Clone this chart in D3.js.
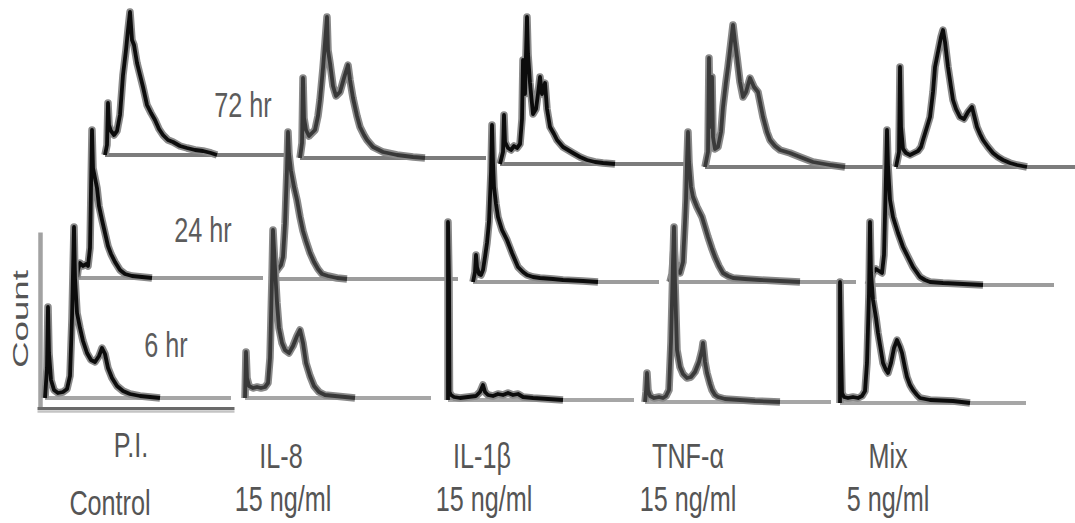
<!DOCTYPE html>
<html><head><meta charset="utf-8">
<script src="https://cdn.jsdelivr.net/npm/d3@7"></script>
<style>html,body{margin:0;padding:0;background:#fff;} svg{display:block}</style>
</head><body>
<svg id="chart" width="1075" height="523"></svg>
<script>
// ---------------- DATA ----------------
const groups = ["Control", "IL-8", "IL-1β", "TNF-α", "Mix"];
const groupLabels = ["P.I.", "IL-8", "IL-1β", "TNF-α", "Mix"];
const doseLabels = ["Control", "15 ng/ml", "15 ng/ml", "15 ng/ml", "5 ng/ml"];
const timeLabels = ["6 hr", "24 hr", "72 hr"];
const yAxisLabel = "Count";

// [channel, count] pairs
const control6 = [[0,0],[2,30],[3,91],[4,45],[6,18],[9,8],[13,5],[18,6],[22,9],[25,22],[27,80],[29,171],[30,120],[32,85],[35,70],[38,57],[42,45],[46,38],[50,36],[54,42],[57,50],[60,44],[63,30],[67,20],[72,12],[78,7],[85,4],[95,2],[105,1],[115,0]];
const control24 = [[0,0],[1,8],[3,15],[6,12],[9,14],[11,12],[13,30],[15,148],[16,110],[18,100],[20,90],[22,72],[25,58],[28,45],[31,32],[34,24],[38,16],[43,8],[48,4],[55,2],[65,1],[75,0]];
const control72 = [[0,0],[2,10],[3,52],[4,30],[6,24],[9,20],[12,24],[15,40],[18,80],[21,105],[23,125],[25,143],[27,115],[29,110],[32,92],[35,80],[38,68],[42,50],[46,42],[50,35],[54,26],[58,20],[63,15],[68,13],[75,9],[82,7],[90,5],[98,4],[106,2],[112,0]];

const il8_6 = [[0,0],[1,46],[2,20],[4,12],[8,10],[12,11],[16,10],[20,11],[23,15],[25,40],[27,120],[28,168],[30,130],[32,95],[34,70],[37,55],[40,48],[44,45],[48,52],[52,62],[55,68],[58,55],[61,35],[65,22],[69,12],[74,6],[80,3],[90,2],[100,1],[110,0]];
const il8_24 = [[0,0],[3,6],[6,10],[9,14],[11,22],[13,55],[15,110],[16,147],[17,125],[19,108],[22,92],[25,79],[28,62],[31,48],[34,38],[38,26],[42,17],[46,10],[50,5],[56,3],[65,1],[75,0]];
const il8_72 = [[0,0],[2,15],[3,80],[4,40],[6,28],[9,22],[12,25],[15,28],[18,42],[20,58],[23,90],[25,115],[27,141],[28,108],[30,95],[33,72],[36,62],[40,66],[44,80],[48,93],[50,78],[53,60],[57,42],[60,31],[64,23],[67,18],[73,11],[83,6],[97,3],[113,1],[125,0]];

const il1b_6 = [[0,0],[0,178],[1,120],[1.5,8],[3,5],[6,3],[12,2],[20,3],[28,4],[32,8],[35,15],[37,8],[40,5],[45,4],[50,6],[55,5],[60,7],[65,5],[70,6],[75,3],[85,2],[100,1],[115,0]];
const il1b_24 = [[0,0],[2,10],[3,27],[4,15],[6,8],[8,7],[10,12],[12,25],[14,39],[16,60],[18,110],[19,157],[20,120],[21,95],[23,78],[25,65],[29,52],[34,42],[39,29],[45,15],[50,10],[54,7],[60,5],[67,4],[80,3],[90,2],[110,1],[125,0]];
const il1b_72 = [[0,0],[3,12],[4,49],[5,22],[8,16],[11,14],[14,18],[17,16],[20,20],[22,45],[23,104],[25,70],[26,110],[27,147],[28,110],[30,81],[33,50],[36,55],[38,70],[40,87],[42,70],[45,81],[47,55],[50,37],[54,30],[57,24],[63,17],[68,14],[73,11],[80,7],[87,4],[95,2],[103,1],[115,0]];

const tnf6 = [[0,0],[1,10],[2,29],[3,12],[5,6],[9,4],[14,5],[18,4],[21,6],[24,12],[26,60],[28,140],[29,175],[30,120],[32,52],[35,35],[38,28],[42,24],[46,25],[50,30],[54,40],[57,52],[58,59],[60,40],[62,29],[65,18],[67,12],[70,7],[73,5],[80,3],[95,2],[110,1],[135,0]];
const tnf24 = [[0,0],[2,8],[4,35],[5,20],[7,10],[10,9],[13,20],[15,60],[16,82],[17,120],[18,150],[19,120],[21,95],[23,85],[27,75],[32,65],[35,55],[38,45],[42,33],[45,25],[49,16],[53,9],[58,6],[63,4],[75,3],[90,2],[110,1],[130,0]];
const tnf72 = [[0,0],[3,15],[4,109],[5,40],[7,90],[8,30],[10,18],[13,20],[16,35],[18,60],[21,85],[23,100],[26,125],[28,142],[30,125],[32,110],[35,85],[38,70],[41,75],[45,89],[49,80],[53,75],[56,60],[58,50],[62,35],[65,27],[70,21],[75,17],[85,14],[95,10],[108,5],[125,2],[140,0]];

const mix6 = [[0,0],[0,121],[1,60],[2,10],[4,6],[8,5],[13,6],[18,5],[22,7],[25,12],[27,40],[29,110],[30,181],[31,130],[33,103],[36,85],[38,70],[41,52],[43,40],[46,33],[48,30],[51,40],[54,55],[57,63],[60,56],[62,50],[65,35],[67,26],[70,18],[73,13],[77,8],[80,5],[90,3],[113,2],[130,0]];
const mix24 = [[0,0],[3,6],[5,12],[8,16],[11,14],[14,12],[16,30],[17,70],[18,110],[19,155],[20,120],[22,85],[25,68],[30,52],[35,38],[40,28],[45,18],[52,8],[57,5],[62,3],[75,2],[95,1],[115,0]];
const mix72 = [[0,0],[3,15],[4,100],[5,40],[7,18],[10,14],[14,12],[18,14],[22,16],[25,20],[27,27],[31,40],[34,50],[37,75],[39,100],[42,115],[45,130],[47,137],[49,125],[52,100],[55,80],[57,67],[60,58],[64,50],[68,48],[72,55],[76,60],[79,48],[81,40],[84,33],[87,27],[92,20],[97,14],[102,10],[107,7],[114,4],[121,2],[131,0]];

const seriesByGroup = [
  [control6, control24, control72],
  [il8_6, il8_24, il8_72],
  [il1b_6, il1b_24, il1b_72],
  [tnf6, tnf24, tnf72],
  [mix6, mix24, mix72]
];

// ---------------- LAYOUT ----------------
const CH_MAX = 186;
const origins = [
  [[45,398],[77,278],[105,155]],
  [[245,398],[272,279],[300,158]],
  [[448,400],[473,282],[500,164]],
  [[645,402],[670,282],[705,167]],
  [[840,403],[868,285],[896,167]]
];
const inkColors = ["#0c0c0c", "#383838", "#0c0c0c", "#3a3a3a", "#0c0c0c"];
const baseColors = ["#a6a6a6", "#9c9c9c", "#7c7c7c"];

const svg = d3.select("#chart");
const xs = d3.scaleLinear().domain([0, CH_MAX]).range([0, 186]);
const ys = d3.scaleLinear().domain([0, 200]).range([0, -200]);
const line = d3.line().x(d => xs(d[0])).y(d => ys(d[1])).curve(d3.curveLinear);

// Control axis (L-shape)
const axX = d3.scaleLinear().domain([0, CH_MAX]).range([37, 234]);
const axY = d3.scaleLinear().domain([0, 175]).range([409, 232]);
const gyAxis = svg.append("g").attr("transform", "translate(40,0)")
  .call(d3.axisLeft(axY).ticks(0).tickSizeOuter(0));
gyAxis.select(".domain").attr("stroke", "#a2a2a2").attr("stroke-width", 4.5);
const gxAxis2 = svg.append("g").attr("transform", "translate(0,411)")
  .call(d3.axisBottom(axX).ticks(0).tickSizeOuter(0));
gxAxis2.select(".domain").attr("stroke", "#c4c4c4").attr("stroke-width", 2.5);
const gxAxis = svg.append("g").attr("transform", "translate(0,408)")
  .call(d3.axisBottom(axX).ticks(0).tickSizeOuter(0));
gxAxis.select(".domain").attr("stroke", "#6a6a6a").attr("stroke-width", 3);

// draw back (72hr) to front (6hr)
for (let t = 2; t >= 0; t--) {
  groups.forEach((g, gi) => {
    const [ox, oy] = origins[gi][t];
    const gg = svg.append("g").attr("transform", `translate(${ox},${oy})`);
    gg.append("line")
      .attr("x1", xs(0)).attr("x2", xs(CH_MAX))
      .attr("y1", ys(0)).attr("y2", ys(0))
      .attr("stroke", baseColors[t]).attr("stroke-width", 4);
    const data = seriesByGroup[gi][t];
    gg.append("path").datum(data).attr("d", line)
      .attr("fill", "none").attr("stroke", "#8a8a8a")
      .attr("stroke-width", 7.5).attr("stroke-linejoin", "round");
    gg.append("path").datum(data).attr("d", line)
      .attr("fill", "none").attr("stroke", inkColors[gi])
      .attr("stroke-width", 3.8).attr("stroke-linejoin", "round");
  });
}

// ---------------- TEXT ----------------
const FONT = "'Liberation Sans', Arial, sans-serif";
function label(txt, cx, by, fill) {
  svg.append("text")
    .attr("transform", `translate(${cx},${by}) scale(0.72,1)`)
    .attr("text-anchor", "middle")
    .attr("font-family", FONT).attr("font-size", 35)
    .attr("fill", fill || "#555")
    .text(txt);
}
// time labels
const timePos = [[166, 357], [203, 242], [243, 117]];
timeLabels.forEach((t, i) => label(t, timePos[i][0], timePos[i][1], "#5c5c5c"));

// group / dose labels
const groupPos = [[131, 457], [281, 468], [482, 468], [688, 468], [888, 468]];
const dosePos = [[110, 515], [283, 511], [484, 511], [688, 511], [888, 511]];
groupLabels.forEach((t, i) => label(t, groupPos[i][0], groupPos[i][1]));
doseLabels.forEach((t, i) => label(t, dosePos[i][0], dosePos[i][1]));

// y-axis label
svg.append("text")
  .attr("transform", "translate(28,319) rotate(-90)")
  .attr("text-anchor", "middle")
  .attr("font-family", FONT).attr("font-size", 22)
  .attr("fill", "#555")
  .attr("textLength", 98).attr("lengthAdjust", "spacingAndGlyphs")
  .text(yAxisLabel);
</script>
</body></html>
